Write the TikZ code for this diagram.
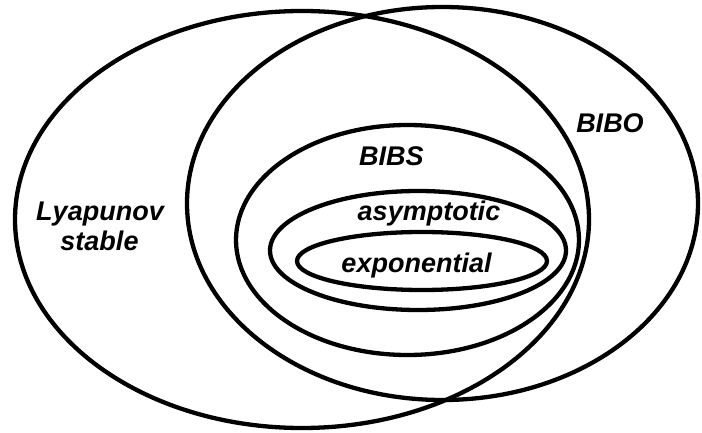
\documentclass[tikz,border=0pt]{standalone}
\usepackage{fontspec}
\setmainfont{Liberation Sans}
\begin{document}
\begin{tikzpicture}[x=1pt,y=-1pt,
  setline/.style={draw=black,line width=4.3pt},
  setlabel/.style={font=\fontsize{27}{31}\selectfont\bfseries\itshape,inner sep=0pt,anchor=base}]
\useasboundingbox (0,0) rectangle (702,433);
% Lyapunov stable
\draw[setline] (302,219.5) ellipse [x radius=287pt, y radius=208.5pt];
% BIBO
\draw[setline] (442.5,203.5) ellipse [x radius=255.5pt, y radius=196.5pt];
% BIBS
\draw[setline] (407.5,240) ellipse [x radius=171.5pt, y radius=115pt];
% asymptotic
\draw[setline] (418,250.5) ellipse [x radius=148pt, y radius=59.5pt];
% exponential
\draw[setline] (422,261) ellipse [x radius=125pt, y radius=29pt];
% labels
\node[setlabel] (lyap) at (100,220) {Lyapunov};
\node[setlabel] (stab) at (99.5,250) {stable};
\node[setlabel] (bibo) at (610,133) {BIBO};
\node[setlabel] (bibs) at (391.5,166) {BIBS};
\node[setlabel] (asym) at (429,220) {asymptotic};
\node[setlabel] (expo) at (416.5,272) {exponential};
\end{tikzpicture}
\end{document}
